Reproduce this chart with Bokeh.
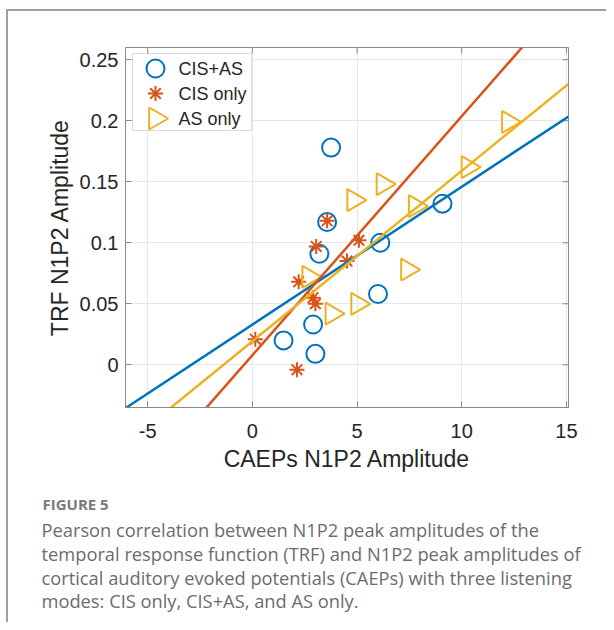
import numpy as np
from bokeh.plotting import figure
from bokeh.models import Range1d, FixedTicker, NumeralTickFormatter, Label, BoxAnnotation
from bokeh.embed import file_html
from bokeh.resources import INLINE

# ---------------- data ----------------
cis_as_x = [3.76, 3.57, 3.20, 6.11, 9.08, 6.00, 2.90, 1.49, 3.01]
cis_as_y = [0.178, 0.117, 0.091, 0.100, 0.132, 0.058, 0.033, 0.020, 0.009]
cis_only_x = [3.57, 3.05, 5.09, 4.52, 2.21, 2.90, 3.01, 0.14, 2.13]
cis_only_y = [0.118, 0.097, 0.102, 0.085, 0.068, 0.055, 0.050, 0.021, -0.004]
as_only_x = [12.23, 10.30, 6.24, 4.84, 7.78, 7.41, 2.69, 5.03, 3.80]
as_only_y = [0.199, 0.162, 0.148, 0.135, 0.130, 0.078, 0.072, 0.050, 0.042]

series_names = ["CIS+AS", "CIS only", "AS only"]
x_ticks = [-5, 0, 5, 10, 15]
y_ticks = [0, 0.05, 0.1, 0.15, 0.2, 0.25]
x_limits = (-6.06, 15.1)
y_limits = (-0.035, 0.26)
x_label = "CAEPs N1P2 Amplitude"
y_label = "TRF N1P2 Amplitude"
caption_title = "FIGURE 5"
caption_lines = [
    "Pearson correlation between N1P2 peak amplitudes of the",
    "temporal response function (TRF) and N1P2 peak amplitudes of",
    "cortical auditory evoked potentials (CAEPs) with three listening",
    "modes: CIS only, CIS+AS, and AS only.",
]

# ---------------- layout (page px) ----------------
OX, OY = 8, 11                        # canvas origin on the page
W = 600
H1 = 474
GAP = 5.5                             # inline gap between the two canvases
H2 = 139
FL, FT, FR, FB = 125 - OX, 47 - OY, 568 - OX, 407 - OY   # frame in canvas px
FW, FH = FR - FL, FB - FT

BLUE, ORANGE, YELLOW = "#0072BD", "#D95319", "#EDB120"
AXC = "#8a8a8a"
TXT = "#262626"
FONT = "Liberation Sans"
XSPAN = x_limits[1] - x_limits[0]
YSPAN = y_limits[1] - y_limits[0]
BORDER = "2px solid #a0a0a0"


def dx(cx):
    return x_limits[0] + (cx - FL) / FW * XSPAN


def dy(cy):
    return y_limits[1] - (cy - FT) / FH * YSPAN


p = figure(width=W, height=H1, x_range=Range1d(*x_limits), y_range=Range1d(*y_limits),
           output_backend="svg", toolbar_location=None,
           min_border_left=FL, min_border_right=W - FR,
           min_border_top=FT, min_border_bottom=H1 - FB,
           styles={"margin-left": "6px", "margin-top": "9px",
                   "border-left": BORDER, "border-top": BORDER})
p.background_fill_color = "white"
p.border_fill_color = "white"
p.outline_line_color = AXC
p.outline_line_width = 1

xt = FixedTicker(ticks=x_ticks)
yt = FixedTicker(ticks=y_ticks)
xax = p.below[0]
yax = p.left[0]
xax.ticker = xt
yax.ticker = yt
xax.formatter = NumeralTickFormatter(format="0")
yax.formatter = NumeralTickFormatter(format="0.[00]")

for ax in (xax, yax):
    ax.axis_line_color = AXC
    ax.major_tick_line_color = AXC
    ax.major_tick_in = 6
    ax.major_tick_out = 0
    ax.minor_tick_line_color = None
    ax.major_label_text_font = FONT
    ax.major_label_text_font_size = "20px"
    ax.major_label_text_color = TXT
    ax.axis_label_text_font = FONT
    ax.axis_label_text_font_size = "23px"
    ax.axis_label_text_font_style = "normal"
    ax.axis_label_text_color = TXT

xax.axis_label = x_label
yax.axis_label = y_label
xax.major_label_standoff = 16
xax.axis_label_standoff = 5
yax.major_label_standoff = 7
yax.axis_label_standoff = 4

p.xgrid.ticker = xt
p.ygrid.ticker = yt
p.xgrid.grid_line_color = "#e6e6e6"
p.ygrid.grid_line_color = "#e6e6e6"

# inward ticks on the top and right edges of the box
tick_dy = 6 / FH * YSPAN
tick_dx = 6 / FW * XSPAN
p.segment(x0=x_ticks, x1=x_ticks, y0=[y_limits[1]] * len(x_ticks), y1=[y_limits[1] - tick_dy] * len(x_ticks),
          line_color=AXC, line_width=1)
p.segment(x0=[x_limits[1]] * len(y_ticks), x1=[x_limits[1] - tick_dx] * len(y_ticks), y0=y_ticks, y1=y_ticks,
          line_color=AXC, line_width=1)

# ---------------- legend box (under glyphs, above grid) ----------------
p.add_layout(BoxAnnotation(left=dx(132 - OX), right=dx(251 - OX), top=dy(53 - OY), bottom=dy(130 - OY),
                           fill_color="white", fill_alpha=1.0, line_color=AXC, line_width=1,
                           level="underlay"))

# ---------------- scatter ----------------
p.scatter(cis_as_x, cis_as_y, marker="circle", size=18, fill_color=None, line_color=BLUE, line_width=2)
p.scatter(cis_only_x, cis_only_y, marker="asterisk", size=15, line_color=ORANGE, line_width=2)
p.scatter(as_only_x, as_only_y, marker="triangle", size=22, angle=-np.pi / 2,
          fill_color=None, line_color=YELLOW, line_width=2)

# ---------------- least-squares lines across the x-limits ----------------
xs_line = np.array(x_limits)
for xv, yv, col in [(cis_as_x, cis_as_y, BLUE), (cis_only_x, cis_only_y, ORANGE), (as_only_x, as_only_y, YELLOW)]:
    k, b = np.polyfit(xv, yv, 1)
    p.line(xs_line, k * xs_line + b, line_color=col, line_width=2.5)

# ---------------- legend entries ----------------
rows = [68 - OY, 93 - OY, 118 - OY]
mk = [dict(marker="circle", size=18, fill_color=None, line_color=BLUE, line_width=2),
      dict(marker="asterisk", size=15, line_color=ORANGE, line_width=2),
      dict(marker="triangle", size=22, angle=-np.pi / 2, fill_color=None, line_color=YELLOW, line_width=2)]
for name, r, m in zip(series_names, rows, mk):
    p.scatter([dx(155 - OX)], [dy(r)], **m)
    p.add_layout(Label(x=dx(178 - OX), y=dy(r), text=name, text_font=FONT, text_font_size="18px",
                       text_color=TXT, text_baseline="middle", text_align="left"))

# ---------------- caption (second svg canvas, pixel coordinates) ----------------
CY0 = OY + H1 + GAP   # page y of the caption canvas top
p2 = figure(width=W, height=H2, x_range=Range1d(0, W), y_range=Range1d(H2, 0),
            output_backend="svg", toolbar_location=None, min_border=0,
            x_axis_location=None, y_axis_location=None,
            styles={"margin-left": "6px", "border-left": BORDER})
p2.grid.visible = False
p2.outline_line_color = None
p2.background_fill_color = "white"
p2.border_fill_color = "white"
p2.add_layout(Label(x=42 - OX, y=510.5 - CY0, text=caption_title, text_font="Open Sans",
                    text_font_size="15px", text_font_style="bold", text_color="#7a7a7a",
                    text_baseline="alphabetic", text_align="left"))
caption_baselines = [536.5, 560, 584, 607.5]
for line, b in zip(caption_lines, caption_baselines):
    p2.add_layout(Label(x=41 - OX, y=b - CY0, text=line, text_font="Open Sans",
                        text_font_size="18.3px", text_color="#6c6c6c",
                        text_baseline="alphabetic", text_align="left"))

open("out.html", "w").write(file_html([p, p2], INLINE))
